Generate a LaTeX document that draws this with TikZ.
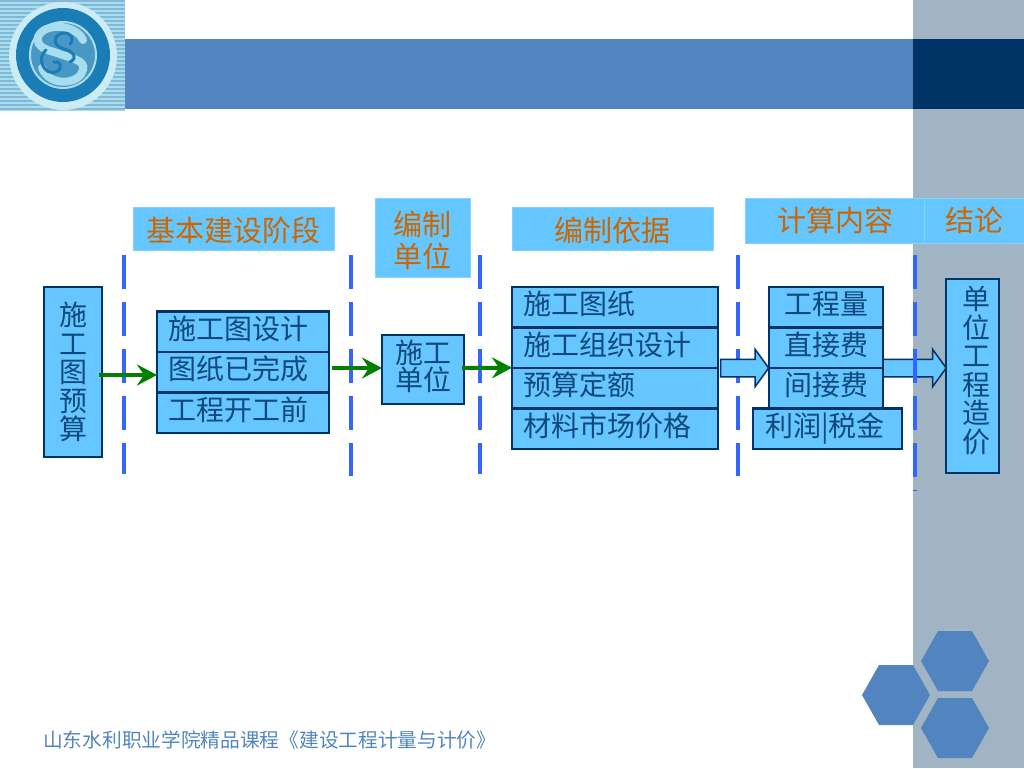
\documentclass[tikz,border=0pt]{standalone}
\usepackage{fontspec}
\newfontfamily\cjk{Noto Sans CJK SC}
\usetikzlibrary{arrows.meta,shapes.arrows}
\definecolor{boxfill}{HTML}{66C6FF}
\definecolor{boxline}{HTML}{003366}
\definecolor{titletext}{HTML}{CC6600}
\definecolor{bandgray}{HTML}{A0B4C4}
\definecolor{barblue}{HTML}{5285C0}
\definecolor{dashblue}{HTML}{3366FF}
\definecolor{arrowgreen}{HTML}{008000}
\definecolor{logoblue}{HTML}{1B7DB5}
\definecolor{logopale}{HTML}{A8DDEE}
\tikzset{
  titlebox/.style={fill=boxfill, draw=boxfill!80!white, line width=0.5pt, inner sep=0pt, outer sep=0pt, text=titletext, align=center,
    font=\cjk\fontsize{29}{32}\selectfont},
  bluebox/.style={draw=boxline, fill=boxfill, line width=2.5pt, inner sep=0pt, outer sep=0pt, text=boxline!85!boxfill,
    font=\cjk\fontsize{28}{28.5}\selectfont},
  rowbox/.style={bluebox, minimum height=40.5pt, align=left, text height=24.6pt, text depth=9.4pt},
  footnote/.style={inner sep=0pt, text=barblue, font=\cjk\fontsize{19.7}{20}\selectfont},
  greenline/.style={draw=arrowgreen, line width=4pt, -{Stealth[length=20pt,width=21pt,inset=7pt]}},
  stageline/.style={draw=dashblue, line width=4pt, dash pattern=on 34pt off 13pt},
  blockarrow/.style={single arrow, draw=boxline, fill=boxfill, line width=1.5pt, inner sep=8pt, outer sep=0pt,
    single arrow tip angle=108, single arrow head extend=10pt},
}

\begin{document}
\begin{tikzpicture}[x=1pt, y=-1pt]
    \useasboundingbox (0,0) rectangle (1024,768);
    % 背景
    \fill[bandgray] (913,0) rectangle (1024,768);
    \fill[barblue] (125,39) rectangle (913,109);
    \fill[boxline] (913,39) rectangle (1024,109);
    \foreach \hx/\hy in {955/661, 896/695, 955/728}
        \fill[barblue, shift={(\hx,\hy)}] (34,0) -- (17,30) -- (-17,30) -- (-34,0) -- (-17,-30) -- (17,-30) -- cycle;
    % 校徽
    \fill[logopale] (0,0) rectangle (125,111);
    \foreach \ly in {1,5,...,109}
        \draw[logoblue!55!white, line width=1.5pt] (0,\ly) -- (125,\ly);
    \fill[logopale!60!white] (63,56) circle (54);
    \fill[logoblue] (63,55) circle (47);
    \fill[logoblue!80!white] (63,55) circle (33);
    \draw[logopale, line width=2pt] (63,55) circle (33);
    \draw[logopale, line width=8pt, line cap=round]
        (83,40) .. controls (76,24) and (44,22) .. (38,37) .. controls (36,48) and (48,50) .. (57,53)
        .. controls (70,58) and (86,60) .. (83,70) .. controls (80,84) and (50,88) .. (42,68);
    \draw[logoblue, line width=3pt, line cap=round]
        (70,44) .. controls (76,38) and (68,30) .. (60,34) .. controls (52,38) and (54,46) .. (64,49)
        .. controls (74,52) and (78,58) .. (70,62);
    \draw[logoblue, line width=3pt, line cap=round]
        (46,50) .. controls (36,58) and (44,76) .. (56,72) .. controls (64,68) and (60,60) .. (54,62);
    % 标题
    \node[titlebox, minimum width=201pt, minimum height=43pt, text height=28.5pt] (stage) at (233.5,228.5) {基本建设阶段};
    \node[titlebox, minimum width=95pt, minimum height=79pt, text height=61.5pt] (maker) at (422.5,237.5) {编制\\[-0.5pt]单位};
    \node[titlebox, minimum width=201pt, minimum height=43pt, text height=28.5pt] (basis) at (612.5,228.5) {编制依据};
    \node[titlebox, minimum width=180pt, minimum height=45pt] (content) at (835,220.5) {计算内容};
    \node[titlebox, minimum width=100pt, minimum height=45pt] (result) at (974.5,220.5) {结论};
    % 方框
    \node[bluebox, minimum width=58pt, minimum height=170pt, align=center] (budget) at (73,372) {施\\工\\图\\预\\算};
    \node[rowbox, text width=150pt, inner xsep=11pt] (drawing) at (243,331.5) {施工图设计};
    \node[rowbox, text width=150pt, inner xsep=11pt] (finish) at (243,372) {图纸已完成};
    \node[rowbox, text width=150pt, inner xsep=11pt] (start) at (243,412.5) {工程开工前};
    \node[bluebox, minimum width=82pt, minimum height=69pt, align=center, text depth=8.4pt] (unit) at (423,369.5) {施工\\[-1.5pt]单位};
    \node[rowbox, text width=184pt, inner xsep=11pt] (plan) at (615,307) {施工图纸};
    \node[rowbox, text width=184pt, inner xsep=11pt] (design) at (615,347.5) {施工组织设计};
    \node[rowbox, text width=184pt, inner xsep=11pt] (quota) at (615,388) {预算定额};
    \node[rowbox, text width=184pt, inner xsep=11pt] (price) at (615,428.5) {材料市场价格};
    \node[rowbox, minimum width=114pt, align=center] (amount) at (826,307) {工程量};
    \node[rowbox, minimum width=114pt, align=center] (direct) at (826,347.5) {直接费};
    \node[rowbox, minimum width=114pt, align=center] (indirect) at (826,388) {间接费};
    \node[rowbox, text width=125pt, inner xsep=12pt] (profit) at (827.5,428.5) {利润|税金};
    \node[bluebox, minimum height=194pt, text width=35pt, inner xsep=9pt, align=right, text depth=155.9pt] (total) at (972.5,376) {单\\位\\工\\程\\造\\价};
    % 箭头和分隔线
    \node[blockarrow, minimum height=63pt] (blockb) at (911.5,368) {};
    \foreach \sx/\sy in {124/474, 351/476, 480/474, 738/476, 915/491}
        \draw[stageline] (\sx,255) -- (\sx,\sy);
    \node[blockarrow, minimum height=48pt] (blocka) at (741.5,368) {};
    \draw[greenline] ([xshift=-3pt,yshift=-3pt]budget.east) -- ([yshift=-3pt]finish.west);
    \draw[greenline] ([xshift=3pt,yshift=4pt]finish.east) -- ([yshift=1.5pt]unit.west);
    \draw[greenline] ([xshift=-2pt,yshift=1.5pt]unit.east) -- (quota.north west);
    % 页脚
    \node[footnote, anchor=west] (foot) at (43,740) {山东水利职业学院精品课程《建设工程计量与计价》};
\end{tikzpicture}
\end{document}
